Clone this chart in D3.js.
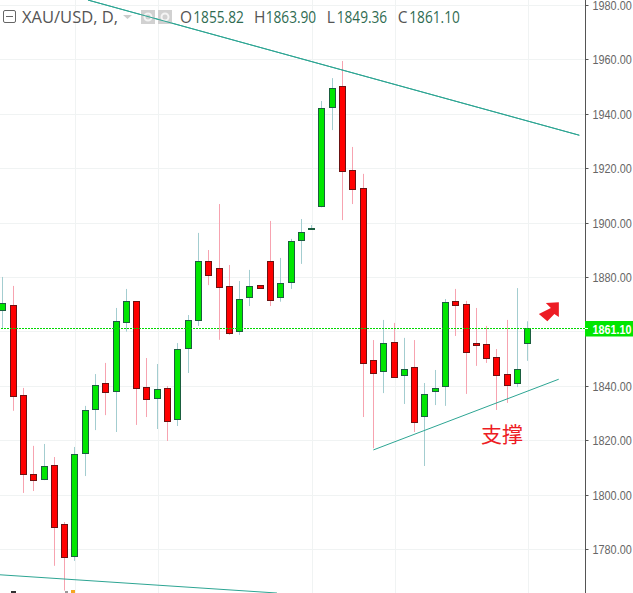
<!DOCTYPE html>
<html><head><meta charset="utf-8">
<script src="https://cdnjs.cloudflare.com/ajax/libs/d3/7.8.5/d3.min.js"></script>
<style>html,body{margin:0;padding:0;background:#fff;overflow:hidden}svg{display:block}</style>
</head><body><svg id="c" width="633" height="593"></svg>
<script>
const opens=[1867.8,1869.6,1836.5,1807.5,1805.8,1810.8,1789.1,1777.5,1815.4,1831.6,1840.9,1838.2,1863.6,1871.1,1839.4,1835.6,1839.1,1827.9,1854,1864.3,1885.8,1883.2,1876.6,1860.3,1872.8,1877,1885.8,1872.5,1878.3,1893.7,1897.8,1906.2,1942.6,1950.1,1919.2,1912.6,1849.4,1845.6,1856,1844.1,1846.8,1829,1838.2,1840,1871.1,1870,1855.6,1855.3,1850.5,1844.2,1841.1,1855.82];
const highs=[1880.2,1876.9,1839.4,1818.1,1818.8,1814,1790.1,1817.7,1832.8,1844.5,1848.6,1868.8,1875.8,1871.1,1850.4,1848.2,1840.1,1855.9,1866.2,1896.4,1890.1,1907,1884.6,1878.7,1882.8,1877,1900.8,1887.2,1894.2,1901.5,1899.3,1944.9,1953.3,1959.6,1928,1918.1,1857,1864.4,1863.3,1857.8,1857,1841.2,1846,1872.1,1875.8,1871.4,1868.8,1862.2,1853.7,1864.4,1876.1,1863.9];
const lows=[1861.4,1831,1800.8,1801.5,1805.5,1774,1764.9,1775.8,1807,1823.9,1829.4,1823.2,1860.1,1825.8,1828.7,1824.3,1819.9,1825.4,1844.9,1862.2,1877.2,1857.1,1858.9,1858.9,1869.5,1876.1,1869.5,1871.1,1875.8,1885,1897.6,1905.8,1934.2,1901.1,1907,1828.7,1817.2,1837.5,1843.3,1833.5,1823.2,1810.7,1833.1,1832.8,1858.5,1837.2,1847.5,1848.6,1831.3,1833.9,1839.7,1849.36];
const closes=[1870.3,1836.1,1807.7,1805.5,1810.4,1788.2,1777.2,1814.8,1831,1840.2,1837.8,1863.7,1871.1,1839.3,1835.3,1838.7,1827.2,1853.4,1864.1,1885.8,1880.8,1876.4,1859.5,1871.8,1876.6,1876.1,1871.4,1877.7,1893.1,1896.4,1898,1942,1949.4,1919.1,1912.5,1848.5,1844.8,1855.6,1843.3,1846.1,1826.8,1836.9,1839.1,1870.7,1869.8,1852.5,1855.1,1850.3,1844.1,1840.4,1846.1,1861.1];
const priceTicks=[1980,1960,1940,1920,1900,1880,1860,1840,1820,1800,1780];
const gridBars=[7,15,30,38,51];
const lastPrice=1861.10;
const trendTop=[[8.27,1982],[56.0,1932.3]];
const trendLow=[[-0.28,1770.7],[26.63,1764]];
const trendSupport=[[35.99,1816.6],[54.0,1842.6]];
const legendLabels=["O","H","L","C"];
const legendValues=["1855.82","1863.90","1849.36","1861.10"];
const supportLabel="支撑";
const title="XAU/USD, D,";

const W=633,H=593,axisX=585.5;
const svg=d3.select("#c");
const x=d3.scaleLinear().domain([0,51]).range([2.85,527.85]);
const y=d3.scaleLinear().domain([1980,1780]).range([5.5,549.5]);
const line=d3.line().x(d=>x(d[0])).y(d=>y(d[1]));
const sy=v=>Math.floor(y(v))+.5;
const chart=svg.append("g");

// grid
chart.append("g").selectAll("line").data(priceTicks).join("line")
 .attr("x1",0).attr("x2",axisX).attr("y1",sy).attr("y2",sy).attr("stroke","#f0f3f3");
const px=i=>Math.floor(x(i))+.5;
chart.append("g").selectAll("line").data(gridBars).join("line")
 .attr("x1",d=>px(d)+1).attr("x2",d=>px(d)+1).attr("y1",0).attr("y2",H).attr("stroke","#f0f3f3");

// candles
const idx=d3.range(opens.length);
const UP="#00e600",DN="#ff0000",UPB="#1b5e3f",DNB="#6b1212",UPW="#a3cdd0",DNW="#f7a3b0";
const isUp=i=>closes[i]>=opens[i];
chart.append("g").selectAll("line").data(idx).join("line")
 .attr("x1",px).attr("x2",px).attr("y1",i=>y(highs[i])).attr("y2",i=>y(lows[i]))
 .attr("stroke",i=>isUp(i)?UPW:DNW).attr("stroke-width",1);
chart.append("g").selectAll("rect").data(idx).join("rect")
 .attr("x",i=>px(i)-3).attr("width",6)
 .attr("y",i=>sy(Math.max(opens[i],closes[i])))
 .attr("height",i=>Math.max(0.01,sy(Math.min(opens[i],closes[i]))-sy(Math.max(opens[i],closes[i]))))
 .attr("fill",i=>isUp(i)?UP:DN).attr("stroke",i=>isUp(i)?UPB:DNB).attr("stroke-width",1);

// trend lines
[trendTop,trendLow,trendSupport].forEach(t=>chart.append("path").attr("d",line(t)).attr("fill","none").attr("stroke","#2da593").attr("stroke-width",1));

// last price line
chart.append("path").attr("d",`M1,${sy(lastPrice)}H${axisX}`).attr("fill","none")
 .attr("stroke","#00d800").attr("stroke-width",1).attr("stroke-dasharray","2 1");

// arrow annotation
const ax=x(51),ay=y(lastPrice);
const arrow=[[31,-26.6],[18,-26],[23,-21],[11,-15],[19.5,-7.6],[26.5,-15],[31,-12]];
chart.append("polygon").attr("points",arrow.map(p=>[ax+p[0],ay+p[1]].join(",")).join(" ")).attr("fill","#ed1c24");

// support text
chart.append("text").attr("x",x(46.45)).attr("y",y(1819.5)).attr("fill","#ed1c24")
 .attr("font-family","'Noto Sans CJK SC'").attr("font-size",21).text(supportLabel);

// clipped bottom markers
chart.append("rect").attr("x",11).attr("y",591).attr("width",5).attr("height",2).attr("fill","#333");
chart.append("rect").attr("x",65).attr("y",591).attr("width",3).attr("height",2).attr("fill","#999");
chart.append("rect").attr("x",71).attr("y",590).attr("width",4).attr("height",3).attr("fill","#f5a623");

// axis (the 1860 label sits under the last price tag, so it is not drawn)
const axisG=svg.append("g").attr("transform",`translate(${axisX},0)`);
const ax2=d3.axisRight(y).tickValues(priceTicks.filter(d=>d!==1860)).tickSize(3).tickPadding(4).tickFormat(d3.format(".2f"));
axisG.call(ax2);
axisG.select(".domain").attr("stroke","#555").attr("d",`M0,0V${H}`);
axisG.selectAll(".tick").attr("transform",d=>`translate(0,${sy(d)+.5})`);
axisG.selectAll(".tick line").attr("stroke","#555").attr("transform","translate(0,-.5)");
axisG.selectAll("text").attr("fill","#666").attr("font-family","'Liberation Sans'").attr("font-size",12)
 .attr("x",0).attr("transform","translate(7,0) scale(.905,1)");

// last price tag
svg.append("rect").attr("x",585).attr("y",321).attr("width",48).attr("height",15.5).attr("fill","#00e600");
svg.append("line").attr("x1",585).attr("x2",588).attr("y1",sy(lastPrice)).attr("y2",sy(lastPrice)).attr("stroke","#fff");
svg.append("text").attr("transform",`translate(592.5,${y(lastPrice)+4.6}) scale(.9,1)`).attr("fill","#fff").attr("font-family","'Liberation Sans'")
 .attr("font-weight","bold").attr("font-size",12).text(d3.format(".2f")(lastPrice));

// legend
const lg=svg.append("g");
lg.append("rect").attr("x",3.5).attr("y",10.5).attr("width",12).attr("height",12).attr("rx",1.5).attr("fill","#fff").attr("stroke","#666");
lg.append("line").attr("x1",6).attr("x2",13).attr("y1",16.5).attr("y2",16.5).attr("stroke","#666");
const FF="'Open Sans'";
lg.append("text").attr("x",22).attr("y",23).attr("fill","#555").attr("font-family",FF).attr("font-size",16)
 .attr("textLength",96).attr("lengthAdjust","spacingAndGlyphs").text(title);
lg.append("path").attr("d","M123,15h9l-4.5,4z").attr("fill","#ccc");
lg.selectAll("rect.ic").data([141,158]).join("rect").attr("class","ic").attr("x",d=>d).attr("y",10).attr("width",14).attr("height",14).attr("fill","#ccc").attr("opacity",.9);
lg.selectAll("circle.ic").data([148,165]).join("circle").attr("class","ic").attr("cx",d=>d).attr("cy",17).attr("r",3.5).attr("fill","none").attr("stroke","#f4f4f4").attr("stroke-width",2);
const labelX=[180,254,326.7,397.7],valueX=[193.3,265.7,336.7,409.3];
lg.selectAll("text.l").data(legendLabels).join("text").attr("class","l").attr("x",(d,i)=>labelX[i]).attr("y",23)
 .attr("fill","#555").attr("font-family",FF).attr("font-size",15.5).text(d=>d);
lg.selectAll("text.v").data(legendValues).join("text").attr("class","v").attr("x",(d,i)=>valueX[i]).attr("y",23)
 .attr("fill","#2f6b52").attr("font-family",FF).attr("font-size",15.5)
 .attr("textLength",50.5).attr("lengthAdjust","spacingAndGlyphs").text(d=>d);
// redraw top trend line over the icons
svg.append("path").attr("d",line(trendTop)).attr("fill","none").attr("stroke","#2da593");
</script></body></html>
